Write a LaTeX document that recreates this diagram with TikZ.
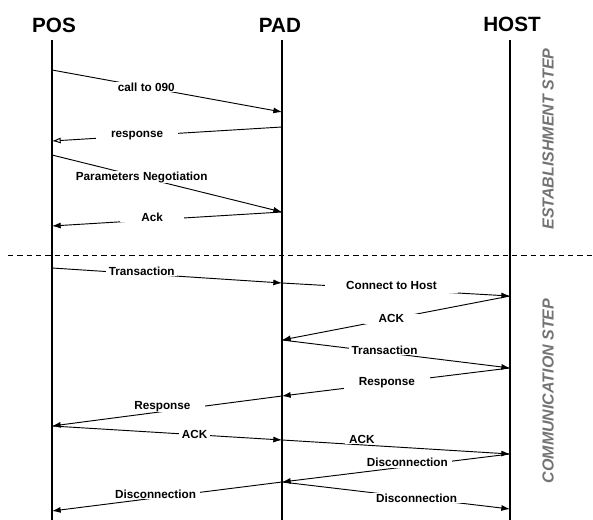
\documentclass[tikz,border=0pt]{standalone}
\usepackage{fontspec}
\setmainfont{Liberation Sans}
\usetikzlibrary{arrows.meta,positioning}
\tikzset{
	actor/.style={
		font=\bfseries\fontsize{15.5}{17}\selectfont, inner sep=1pt
	},
	%
	lifeline/.style={
		line width=0.9pt, black
	},
	%
	msg/.style={
		line width=0.7pt, -{Latex[length=6.5pt,width=4.5pt]}
	},
	%
	msgopen/.style={
		line width=0.7pt, -{Latex[open,length=6.5pt,width=4.5pt]}
	},
	%
	lbl/.style={
		fill=white, inner xsep=11pt, inner ysep=0.5pt,
		font=\bfseries\fontsize{8.8}{10}\selectfont
	},
	%
	phase/.style={
		rotate=90, text=black!55,
		font=\bfseries\itshape\fontsize{12}{13}\selectfont
	}
}

\begin{document}
\begin{tikzpicture}[x=0.75pt,y=-0.75pt]
\useasboundingbox (0,0) rectangle (593,520);

%actors
\node (POS) [actor] at (54,25) {POS};
\node (PAD) [actor] at (280,25) {PAD};
\node (HOST) [actor] at (512,24) {HOST};

%lifeline ends
\coordinate (posTop) at (52,40);
\coordinate (posBot) at (52,520);
\coordinate (padTop) at (282,40);
\coordinate (padBot) at (282,520);
\coordinate (hostTop) at (510,40);
\coordinate (hostBot) at (510,520);

\draw[lifeline] (posTop) -- (posBot);
\draw[lifeline] (padTop) -- (padBot);
\draw[lifeline] (hostTop) -- (hostBot);

%steps
\coordinate (sepL) at (8,255);
\coordinate (sepR) at (593,255);
\draw[line width=0.6pt, dash pattern=on 4pt off 3pt] (sepL) -- (sepR);
\node (est) [phase] at (548,139) {ESTABLISHMENT STEP};
\node (com) [phase] at (548,391) {COMMUNICATION STEP};

%points on POS
\coordinate (p1) at (52,70);
\coordinate (p2) at (52,141);
\coordinate (p3) at (52,155);
\coordinate (p4) at (52,226);
\coordinate (p5) at (52,268);
\coordinate (p6) at (52,426);
\coordinate (p7) at (52,511);
%points on PAD
\coordinate (d1) at (282,112);
\coordinate (d2) at (282,127);
\coordinate (d3) at (282,212);
\coordinate (d4) at (282,283);
\coordinate (d5) at (282,340);
\coordinate (d6) at (282,396);
\coordinate (d7) at (282,440);
\coordinate (d8) at (282,482);
%points on HOST
\coordinate (h1) at (510,296);
\coordinate (h2) at (510,368);
\coordinate (h3) at (510,454);
\coordinate (h4) at (510,509);

%establishment
\draw[msg] (p1) to node[lbl,pos=.41] {call to 090} (d1);
\draw[msgopen] (d2) to node[lbl,pos=.63] {response} (p2);
\draw[msg] (p3) to node[lbl,pos=.39] {Parameters Negotiation} (d3);
\draw[msg] (d3) to node[lbl,pos=.565,yshift=2pt,inner xsep=16pt] {Ack} (p4);

%communication
\draw[msg] (p5) to node[lbl,pos=.39,yshift=2pt,inner xsep=2pt] {Transaction} (d4);
\draw[msg] (d4) to node[lbl,pos=.48,yshift=3pt,inner xsep=16pt,inner ysep=3pt] {Connect to Host} (h1);
\draw[msg] (h1) to node[lbl,pos=.52] {ACK} (d5);
\draw[msg] (d5) to node[lbl,pos=.45,yshift=2pt,inner xsep=2pt] {Transaction} (h2);
\draw[msg] (h2) to node[lbl,pos=.54] {Response} (d6);
\draw[msg] (d6) to node[lbl,pos=.52,yshift=4pt] {Response} (p6);
\draw[msg] (p6) to node[lbl,pos=.62,inner xsep=2pt] {ACK} (d7);
\draw[msg] (d7) to node[lbl,pos=.35,yshift=4pt,inner xsep=3pt] {ACK} (h3);
\draw[msg] (h3) to node[lbl,pos=.45,yshift=3pt,inner xsep=3pt] {Disconnection} (d8);
\draw[msg] (d8) to node[lbl,pos=.55,yshift=3pt,inner xsep=3pt] {Disconnection} (p7);
\draw[msg] (d8) to node[lbl,pos=.59] {Disconnection} (h4);

\end{tikzpicture}
\end{document}
